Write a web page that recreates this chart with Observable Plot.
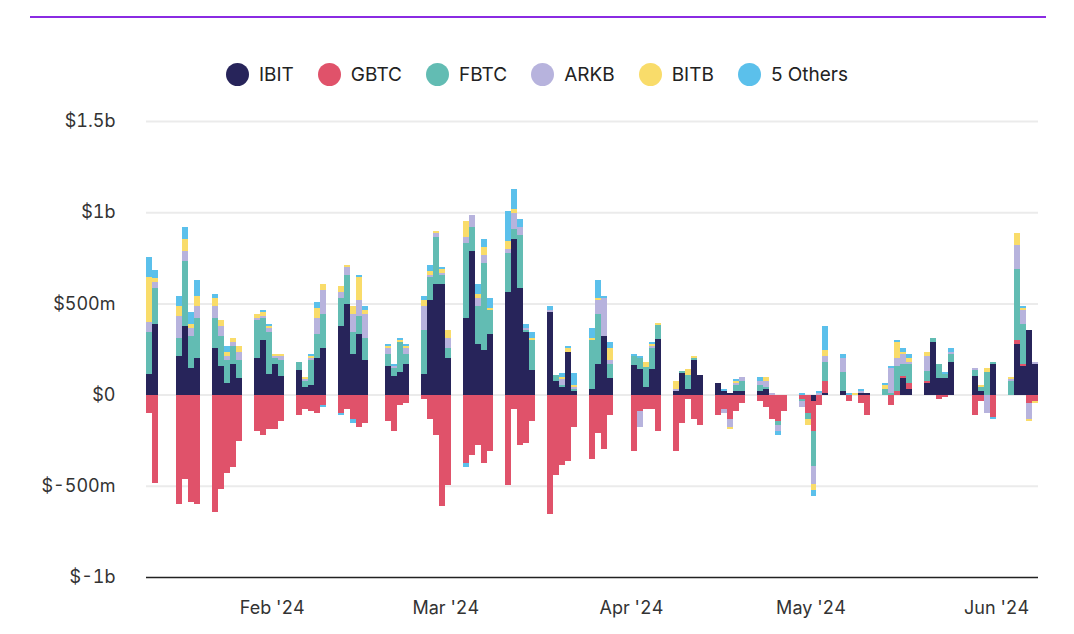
<!DOCTYPE html>
<html><head><meta charset="utf-8">
<script src="https://cdn.jsdelivr.net/npm/d3@7"></script>
<script src="https://cdn.jsdelivr.net/npm/@observablehq/plot@0.6"></script>
<style>
body{margin:0;background:#fff;font-family:Inter,"Noto Sans",sans-serif;}
#wrap{position:relative;width:1074px;height:634px;overflow:hidden;}
#topline{position:absolute;left:30px;top:16px;width:1016px;height:2px;background:#8a2be2;}
#legend{position:absolute;top:63px;left:0;width:1074px;display:flex;justify-content:center;gap:24px;font-size:19px;color:#222;}
#legend span{display:flex;align-items:center;gap:10px;}
#legend i{display:inline-block;width:23px;height:23px;border-radius:50%;}
#chart{position:absolute;top:100px;left:0;}
</style></head><body>
<div id="wrap"><div id="topline"></div><div id="legend"></div><div id="chart"></div></div>
<script>
const seriesNames = ["IBIT","GBTC","FBTC","ARKB","BITB","5 Others"];
const seriesColors = ["#27245a","#e0526a","#62bcb3","#b7b3dd","#f9dc6a","#5bc0eb"];
const dates = ["2024-01-11","2024-01-12","2024-01-16","2024-01-17","2024-01-18","2024-01-19","2024-01-22","2024-01-23","2024-01-24","2024-01-25","2024-01-26","2024-01-29","2024-01-30","2024-01-31","2024-02-01","2024-02-02","2024-02-05","2024-02-06","2024-02-07","2024-02-08","2024-02-09","2024-02-12","2024-02-13","2024-02-14","2024-02-15","2024-02-16","2024-02-20","2024-02-21","2024-02-22","2024-02-23","2024-02-26","2024-02-27","2024-02-28","2024-02-29","2024-03-01","2024-03-04","2024-03-05","2024-03-06","2024-03-07","2024-03-08","2024-03-11","2024-03-12","2024-03-13","2024-03-14","2024-03-15","2024-03-18","2024-03-19","2024-03-20","2024-03-21","2024-03-22","2024-03-25","2024-03-26","2024-03-27","2024-03-28","2024-04-01","2024-04-02","2024-04-03","2024-04-04","2024-04-05","2024-04-08","2024-04-09","2024-04-10","2024-04-11","2024-04-12","2024-04-15","2024-04-16","2024-04-17","2024-04-18","2024-04-19","2024-04-22","2024-04-23","2024-04-24","2024-04-25","2024-04-26","2024-04-29","2024-04-30","2024-05-01","2024-05-02","2024-05-03","2024-05-06","2024-05-07","2024-05-08","2024-05-09","2024-05-10","2024-05-13","2024-05-14","2024-05-15","2024-05-16","2024-05-17","2024-05-20","2024-05-21","2024-05-22","2024-05-23","2024-05-24","2024-05-28","2024-05-29","2024-05-30","2024-05-31","2024-06-03","2024-06-04","2024-06-05","2024-06-06","2024-06-07"];
const IBIT = [111,387,210,376,144,199,255,155,66,166,89,199,299,111,166,100,133,44,55,199,255,376,498,221,332,188,155,100,122,166,111,520,609,609,199,421,786,277,244,332,565,852,587,343,133,454,77,44,232,22,33,166,321,89,165,143,44,143,307,22,121,33,187,110,66,22,11,22,22,22,33,0,0,0,0,0,-37,0,11,22,0,0,11,11,0,0,0,89,33,66,288,89,89,177,100,22,0,166,0,277,155,354,166];
const GBTC = [-100,-487,-598,-465,-587,-598,-642,-520,-432,-399,-255,-199,-221,-188,-188,-144,-111,-77,-89,-100,-55,-100,-77,-133,-177,-155,-144,-199,-55,-44,-22,-133,-221,-609,-498,-376,-332,-277,-376,-310,-498,-77,-277,-266,-144,-653,-443,-387,-365,-177,-354,-210,-299,-111,-307,-88,-77,-77,-198,-307,-154,-22,-132,-165,-110,-77,-132,-88,-44,-33,-66,-132,-143,-88,-22,-99,-165,-55,66,0,-33,0,-44,-110,0,-55,22,11,33,11,0,-22,-11,0,-110,-33,0,-122,0,22,11,-44,-33];
const FBTC = [232,199,100,354,177,221,166,166,122,100,100,210,122,232,33,89,44,33,133,133,188,155,155,122,100,122,66,44,166,55,244,122,255,44,55,410,133,210,476,133,210,55,288,11,166,0,33,11,0,11,266,277,0,77,44,55,110,110,77,0,11,77,11,0,0,0,0,33,55,33,11,0,-22,0,-11,-33,-187,0,99,100,0,0,0,0,33,11,133,66,100,55,22,77,22,44,33,22,122,11,77,387,221,0,0];
const ARKB = [55,33,122,55,44,66,66,55,22,22,44,11,11,22,11,22,0,11,11,89,133,33,44,100,89,133,33,11,0,33,133,11,22,11,55,33,66,44,44,0,22,89,44,11,0,11,0,33,0,11,0,77,210,22,0,-88,0,11,0,11,0,0,0,0,0,-22,-44,11,22,22,33,11,-33,0,-33,0,-99,11,33,77,0,0,11,0,0,133,44,55,11,77,0,0,0,11,11,0,-99,0,11,133,77,-89,11];
const BITB = [244,22,55,66,22,55,44,33,22,22,33,22,22,11,11,11,0,11,11,55,33,33,11,44,122,22,11,0,11,11,33,22,11,22,44,89,0,22,44,11,44,22,0,0,11,0,0,11,22,11,11,11,0,66,0,0,22,11,11,44,0,33,11,0,0,0,-11,11,0,0,22,0,0,0,0,-33,-33,0,33,0,0,11,0,0,22,0,89,11,22,22,0,0,0,0,0,11,22,0,11,66,11,-11,-11];
const OTHERS = [111,44,55,66,66,89,22,0,33,0,0,0,11,11,0,0,0,0,11,33,-11,-11,0,-22,11,22,11,11,11,11,22,33,0,11,0,-22,0,55,44,55,166,111,44,22,33,22,0,22,11,66,55,100,11,33,11,11,0,11,0,0,0,0,0,0,0,11,0,11,0,22,0,0,-22,0,11,0,-33,11,132,22,11,0,11,0,11,11,11,22,22,0,0,0,11,22,0,0,0,-11,0,0,11,0,0];
const seriesValues = [IBIT,GBTC,FBTC,ARKB,BITB,OTHERS];
const yTicks = [-1000,-500,0,500,1000,1500];
const yLabels = ["$-1b","$-500m","$0","$500m","$1b","$1.5b"];

const parse = d3.utcParse("%Y-%m-%d");
const rows = [];
seriesNames.forEach((s,i)=>dates.forEach((d,j)=>{
  const dt = parse(d);
  rows.push({date: dt, end: d3.utcDay.offset(dt,1), series: s, value: seriesValues[i][j]});
}));

const leg = document.getElementById("legend");
seriesNames.forEach((s,i)=>{const e=document.createElement("span");e.innerHTML=`<i style="background:${seriesColors[i]}"></i>${s}`;leg.appendChild(e);});

const plot = Plot.plot({
  width: 1074, height: 534,
  marginLeft: 146, marginRight: 36, marginTop: 21, marginBottom: 57,
  style: {fontFamily: "Inter, 'Noto Sans', sans-serif", fontSize: "18px", color: "#333", background: "#fff"},
  x: {type: "utc", domain: [parse("2024-01-11"), parse("2024-06-08")], label: null,
      ticks: d3.utcMonth.range(parse("2024-02-01"), parse("2024-06-02")), tickFormat: d3.utcFormat("%b '%y"), tickSize: 0, tickPadding: 24},
  y: {domain: [-1000, 1500], ticks: yTicks, tickFormat: (d)=>yLabels[yTicks.indexOf(d)], tickSize: 0, tickPadding: 31, label: null},
  color: {domain: seriesNames, range: seriesColors},
  marks: [
    Plot.ruleY(yTicks.filter(d=>d>-1000), {stroke: "#ebebeb", strokeWidth: 2}),
    Plot.rect(rows, Plot.stackY({x: "date", x1: "date", x2: "end", y: "value", fill: "series", z: "series", order: seriesNames, inset: 0, shapeRendering: "crispEdges"})),
    Plot.ruleY([-1000], {stroke: "#222", strokeWidth: 1.5})
  ]
});
document.getElementById("chart").appendChild(plot);
</script></body></html>
